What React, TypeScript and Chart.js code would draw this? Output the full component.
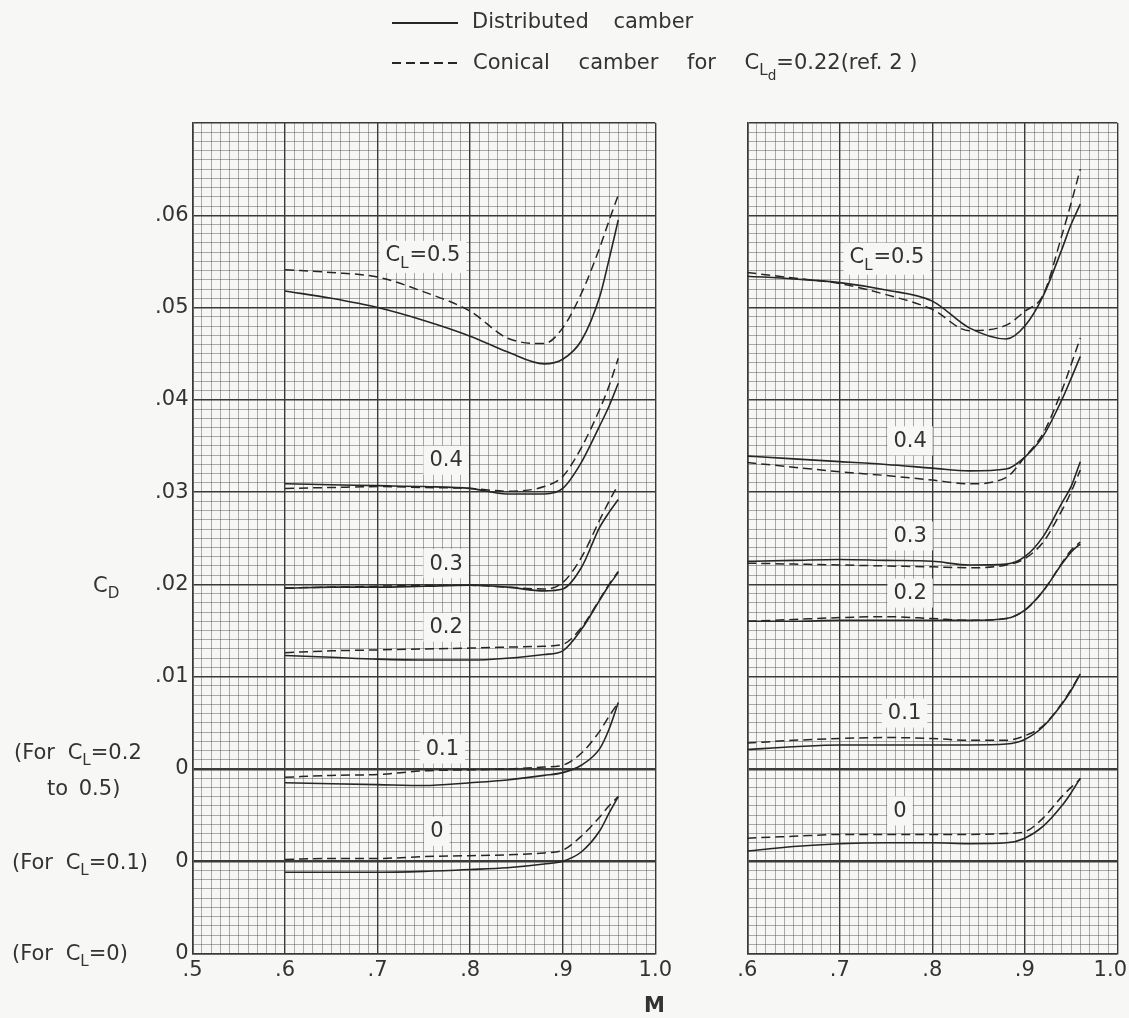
import { useEffect, useRef } from "react"
import { Chart, registerables } from "chart.js"

Chart.register(...registerables)

const MACH = [0.6, 0.65, 0.7, 0.75, 0.8, 0.84, 0.88, 0.9, 0.92, 0.94, 0.95, 0.96]

// curve families, top to bottom
const LIFT_COEFFS = [0.5, 0.4, 0.3, 0.2, 0.1, 0]
// each family sits on its own zero line (CL 0.2-0.5, CL 0.1, CL 0)
const ZERO_SHIFT = [0.02, 0.02, 0.02, 0.02, 0.01, 0]

const Y_TICK_LABELS = ["0", "0", "0", ".01", ".02", ".03", ".04", ".05", ".06", ""]
const X_MAJOR_VALUES = [0.5, 0.6, 0.7, 0.8, 0.9, 1.0]
const X_TICK_LABELS = [".5", ".6", ".7", ".8", ".9", "1.0"]

// left panel, distributed camber (solid)
const L_DIST_05 = [0.0518, 0.051, 0.05, 0.0486, 0.0469, 0.0452, 0.0439, 0.0444, 0.0464, 0.0512, 0.0552, 0.0595]
const L_DIST_04 = [0.0309, 0.0308, 0.0307, 0.0306, 0.0304, 0.0298, 0.0298, 0.0304, 0.0332, 0.0372, 0.0393, 0.0418]
const L_DIST_03 = [0.0196, 0.0197, 0.0197, 0.0198, 0.0199, 0.0197, 0.0193, 0.0195, 0.0218, 0.0262, 0.0278, 0.0292]
const L_DIST_02 = [0.0123, 0.0121, 0.0119, 0.0118, 0.0118, 0.012, 0.0124, 0.0128, 0.0151, 0.0183, 0.0199, 0.0213]
const L_DIST_01 = [0.0085, 0.0084, 0.0083, 0.0082, 0.0085, 0.0088, 0.0093, 0.0096, 0.0104, 0.0122, 0.0143, 0.0172]
const L_DIST_00 = [0.0088, 0.0088, 0.0088, 0.0089, 0.0091, 0.0093, 0.0097, 0.01, 0.011, 0.0133, 0.0152, 0.017]

// left panel, conical camber (dashed)
const L_CON_05 = [0.0541, 0.0538, 0.0533, 0.0517, 0.0496, 0.0467, 0.0461, 0.0478, 0.0515, 0.0565, 0.0594, 0.0622]
const L_CON_04 = [0.0304, 0.0305, 0.0306, 0.0305, 0.0304, 0.0301, 0.0306, 0.0317, 0.0348, 0.039, 0.0415, 0.0445]
const L_CON_03 = [0.0196, 0.0197, 0.0198, 0.0199, 0.0199, 0.0197, 0.0195, 0.0202, 0.0229, 0.027, 0.029, 0.0308]
const L_CON_02 = [0.0126, 0.0128, 0.0129, 0.013, 0.0131, 0.0132, 0.0133, 0.0135, 0.0153, 0.0184, 0.02, 0.0214]
const L_CON_01 = [0.0091, 0.0093, 0.0094, 0.0098, 0.0099, 0.01, 0.0102, 0.0104, 0.0117, 0.0141, 0.0157, 0.0172]
const L_CON_00 = [0.0102, 0.0103, 0.0103, 0.0105, 0.0106, 0.0107, 0.0109, 0.0112, 0.0127, 0.0148, 0.016, 0.017]

// right panel, distributed camber (solid)
const R_DIST_05 = [0.0534, 0.0531, 0.0527, 0.0519, 0.0507, 0.0478, 0.0466, 0.048, 0.0513, 0.0563, 0.059, 0.0612]
const R_DIST_04 = [0.0339, 0.0336, 0.0333, 0.033, 0.0326, 0.0323, 0.0325, 0.0338, 0.0361, 0.04, 0.0423, 0.0447]
const R_DIST_03 = [0.0225, 0.0226, 0.0227, 0.0226, 0.0225, 0.0221, 0.0222, 0.023, 0.0252, 0.0288, 0.0306, 0.0333]
const R_DIST_02 = [0.016, 0.016, 0.0161, 0.0161, 0.0161, 0.0161, 0.0163, 0.0172, 0.0193, 0.0222, 0.0235, 0.0244]
const R_DIST_01 = [0.0121, 0.0124, 0.0126, 0.0126, 0.0126, 0.0126, 0.0127, 0.0132, 0.0146, 0.017, 0.0185, 0.0203]
const R_DIST_00 = [0.0111, 0.0116, 0.0119, 0.012, 0.012, 0.0119, 0.012, 0.0125, 0.0138, 0.016, 0.0174, 0.019]

// right panel, conical camber (dashed)
const R_CON_05 = [0.0538, 0.0532, 0.0526, 0.0514, 0.0498, 0.0475, 0.0481, 0.0496, 0.0514, 0.0578, 0.0613, 0.065]
const R_CON_04 = [0.0332, 0.0327, 0.0322, 0.0318, 0.0313, 0.0309, 0.0316, 0.0338, 0.0364, 0.041, 0.0438, 0.0467]
const R_CON_03 = [0.0223, 0.0222, 0.0221, 0.022, 0.0219, 0.0218, 0.0221, 0.0228, 0.0246, 0.028, 0.03, 0.0324]
const R_CON_02 = [0.016, 0.0162, 0.0164, 0.0165, 0.0163, 0.0161, 0.0163, 0.0172, 0.0193, 0.0223, 0.0237, 0.0246]
const R_CON_01 = [0.0128, 0.0131, 0.0133, 0.0134, 0.0133, 0.0131, 0.0131, 0.0136, 0.0147, 0.0171, 0.0186, 0.0203]
const R_CON_00 = [0.0125, 0.0127, 0.0129, 0.0129, 0.0129, 0.0129, 0.013, 0.0132, 0.0147, 0.017, 0.018, 0.0189]

const FONT = '"DejaVu Sans", "Liberation Sans", sans-serif'
const INK = "#262626"
const TEXT = "#333333"
const PAPER = "#f7f7f5"
const MINOR = "rgba(70, 70, 70, 0.55)"
const MAJOR = "#3a3a3a"

const PAGE_H = 1018
const AREA_TOP = 123
const AREA_BOTTOM = 953.5
const TICK_PAD = 4

const leftPanel = {
  left: 0,
  width: 680,
  areaLeft: 192.5,
  areaRight: 655.3,
  xMin: 0.5,
  showY: true,
  // the last x label would run off the page, so it is drawn flush right instead
  flushLastLabel: false,
  distributed: [L_DIST_05, L_DIST_04, L_DIST_03, L_DIST_02, L_DIST_01, L_DIST_00],
  conical: [L_CON_05, L_CON_04, L_CON_03, L_CON_02, L_CON_01, L_CON_00],
  // label anchor per family: [M, plotted value]
  anchors: [[0.749, 0.0756], [0.774, 0.0534], [0.774, 0.0422], [0.774, 0.0353], [0.77, 0.0221], [0.764, 0.0132]],
}

const rightPanel = {
  left: 680,
  width: 449,
  areaLeft: 67.3,
  areaRight: 437.3,
  xMin: 0.6,
  showY: false,
  flushLastLabel: true,
  distributed: [R_DIST_05, R_DIST_04, R_DIST_03, R_DIST_02, R_DIST_01, R_DIST_00],
  conical: [R_CON_05, R_CON_04, R_CON_03, R_CON_02, R_CON_01, R_CON_00],
  anchors: [[0.751, 0.0754], [0.776, 0.0555], [0.776, 0.0452], [0.776, 0.039], [0.77, 0.026], [0.765, 0.0154]],
}

type PanelSpec = typeof leftPanel

function drawCurveLabel(ctx: CanvasRenderingContext2D, cl: number, first: boolean, cx: number, cy: number) {
  const big = `21px ${FONT}`
  const small = `15px ${FONT}`
  const rest = first ? "=" + String(cl) : String(cl)
  ctx.font = big
  const wC = first ? ctx.measureText("C").width : 0
  const wRest = ctx.measureText(rest).width
  ctx.font = small
  const wL = first ? ctx.measureText("L").width + 1 : 0
  const total = wC + wL + wRest
  const x0 = cx - total / 2
  ctx.fillStyle = PAPER
  ctx.fillRect(x0 - 6, cy - 15, total + 12, first ? 32 : 29)
  ctx.fillStyle = TEXT
  ctx.textBaseline = "middle"
  ctx.textAlign = "left"
  let x = x0
  if (first) {
    ctx.font = big
    ctx.fillText("C", x, cy)
    x += wC
    ctx.font = small
    ctx.fillText("L", x, cy + 8)
    x += wL
  }
  ctx.font = big
  ctx.fillText(rest, x, cy)
}

function buildConfig(p: PanelSpec): any {
  const datasets: any[] = []
  LIFT_COEFFS.forEach((_cl, i) => {
    const shift = ZERO_SHIFT[i]
    datasets.push({
      data: MACH.map((m, j) => ({ x: m, y: p.distributed[i][j] + shift })),
      borderColor: INK,
      borderWidth: 1.6,
      pointRadius: 0,
      cubicInterpolationMode: "monotone",
    })
    datasets.push({
      data: MACH.map((m, j) => ({ x: m, y: p.conical[i][j] + shift })),
      borderColor: INK,
      borderWidth: 1.5,
      borderDash: [9, 5],
      pointRadius: 0,
      cubicInterpolationMode: "monotone",
    })
  })

  const lastX = X_MAJOR_VALUES.length - 1

  const labelPlugin = {
    id: "curveLabels",
    afterDraw(chart: any) {
      const { ctx, scales, chartArea, width } = chart
      ctx.save()
      p.anchors.forEach(([m, v], i) => {
        drawCurveLabel(ctx, LIFT_COEFFS[i], i === 0, scales.x.getPixelForValue(m), scales.y.getPixelForValue(v))
      })
      if (p.flushLastLabel) {
        ctx.font = `21px ${FONT}`
        ctx.fillStyle = TEXT
        ctx.textAlign = "right"
        ctx.textBaseline = "middle"
        ctx.fillText(X_TICK_LABELS[lastX], width - 2, chartArea.bottom + TICK_PAD + 12.6)
      }
      ctx.restore()
    },
  }

  const tickFont = { family: FONT, size: 21 }

  return {
    type: "line",
    data: { datasets },
    options: {
      animation: false,
      responsive: false,
      maintainAspectRatio: false,
      events: [],
      layout: { padding: { top: AREA_TOP, right: p.width - p.areaRight, left: 0, bottom: 0 } },
      plugins: { legend: { display: false }, tooltip: { enabled: false } },
      scales: {
        x: {
          type: "linear",
          min: p.xMin,
          max: 1.0,
          ticks: {
            stepSize: 0.01,
            autoSkip: false,
            maxRotation: 0,
            minRotation: 0,
            padding: TICK_PAD,
            font: tickFont,
            color: TEXT,
            callback: (v: number) => {
              const k = Math.round(v * 100)
              if (k % 10 !== 0) return ""
              const idx = X_MAJOR_VALUES.findIndex((mv) => Math.round(mv * 100) === k)
              if (idx < 0 || (p.flushLastLabel && idx === lastX)) return ""
              return X_TICK_LABELS[idx]
            },
          },
          grid: {
            drawTicks: false,
            color: (c: any) => (c.tick && Math.round(c.tick.value * 100) % 10 === 0 ? MAJOR : MINOR),
            lineWidth: (c: any) => (c.tick && Math.round(c.tick.value * 100) % 10 === 0 ? 1.4 : 0.8),
          },
          border: { color: MAJOR, width: 1.6 },
          afterFit: (s: any) => {
            s.height = PAGE_H - AREA_BOTTOM
            s.paddingLeft = 0
            s.paddingRight = 0
          },
        },
        y: {
          type: "linear",
          min: 0,
          max: 0.09,
          ticks: {
            display: p.showY,
            stepSize: 0.001,
            autoSkip: false,
            padding: TICK_PAD,
            font: tickFont,
            color: TEXT,
            callback: (v: number) => {
              const k = Math.round(v * 1000)
              return k % 10 === 0 ? Y_TICK_LABELS[k / 10] ?? "" : ""
            },
          },
          grid: {
            drawTicks: false,
            color: (c: any) => {
              if (!c.tick) return MINOR
              return Math.round(c.tick.value * 1000) % 10 === 0 ? MAJOR : MINOR
            },
            lineWidth: (c: any) => {
              if (!c.tick) return 0.8
              const k = Math.round(c.tick.value * 1000)
              if (k === 10 || k === 20) return 2.4
              return k % 10 === 0 ? 1.4 : 0.8
            },
          },
          border: { color: MAJOR, width: 1.6 },
          afterFit: (s: any) => {
            s.width = p.areaLeft
            s.paddingTop = 0
            s.paddingBottom = 0
          },
        },
      },
    },
    plugins: [labelPlugin],
  }
}

function Panel({ spec }: { spec: PanelSpec }) {
  const canvasRef = useRef<HTMLCanvasElement>(null)

  useEffect(() => {
    if (!canvasRef.current) return
    const chart = new Chart(canvasRef.current, buildConfig(spec))
    return () => {
      chart.destroy()
    }
  }, [spec])

  return (
    <canvas
      ref={canvasRef}
      width={spec.width}
      height={PAGE_H}
      style={{ position: "absolute", left: spec.left, top: 0, width: spec.width, height: PAGE_H }}
    />
  )
}

const subStyle = { fontSize: "0.72em", verticalAlign: "-0.4em", lineHeight: 0 }

function Note({ left, top, children, style }: any) {
  return <div style={{ position: "absolute", left, top, whiteSpace: "nowrap", ...style }}>{children}</div>
}

export default function App() {
  return (
    <div
      style={{
        position: "absolute",
        left: 0,
        top: 0,
        width: 1129,
        height: PAGE_H,
        overflow: "hidden",
        background: PAPER,
        fontFamily: FONT,
        fontSize: 21,
        lineHeight: "24px",
        color: TEXT,
      }}
    >
      <Panel spec={leftPanel} />
      <Panel spec={rightPanel} />

      <div style={{ position: "absolute", left: 392, top: 22, width: 66, height: 1.5, background: INK }} />
      <Note left={472} top={9} style={{ wordSpacing: 18 }}>
        Distributed camber
      </Note>
      <div
        style={{
          position: "absolute",
          left: 392,
          top: 62,
          width: 66,
          height: 1.5,
          background: `repeating-linear-gradient(90deg, ${INK} 0 9px, transparent 9px 14px)`,
        }}
      />
      <Note left={473} top={50}>
        <span style={{ wordSpacing: 22 }}>Conical camber for </span>C
        <sub style={subStyle}>
          L<sub style={{ ...subStyle, fontSize: "0.9em" }}>d</sub>
        </sub>
        =0.22(ref. 2 )
      </Note>

      <Note left={93} top={573}>
        C<sub style={subStyle}>D</sub>
      </Note>
      <Note left={14} top={740} style={{ wordSpacing: 6 }}>
        (For C<sub style={subStyle}>L</sub>=0.2
      </Note>
      <Note left={47} top={776} style={{ wordSpacing: 4 }}>
        to 0.5)
      </Note>
      <Note left={12} top={850} style={{ wordSpacing: 6 }}>
        (For C<sub style={subStyle}>L</sub>=0.1)
      </Note>
      <Note left={12} top={941} style={{ wordSpacing: 6 }}>
        (For C<sub style={subStyle}>L</sub>=0)
      </Note>
      <Note left={644} top={993} style={{ fontWeight: "bold" }}>
        M
      </Note>
    </div>
  )
}
